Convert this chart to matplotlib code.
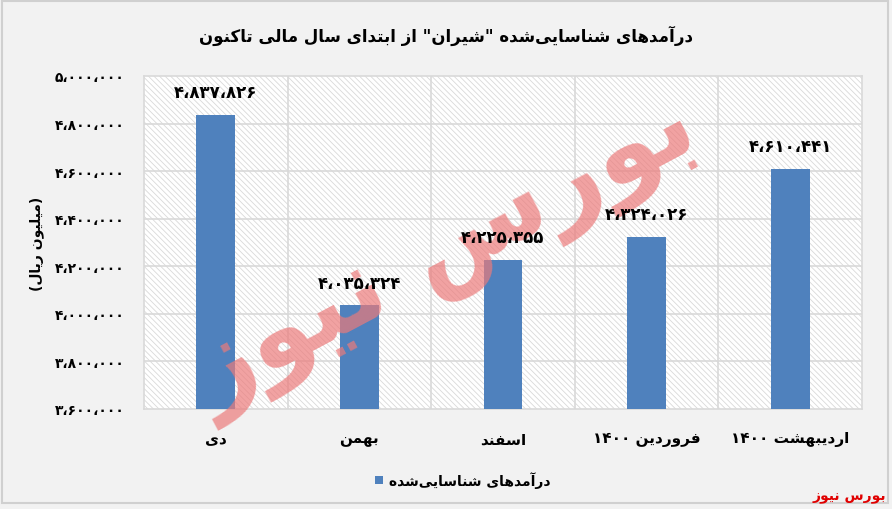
import matplotlib
matplotlib.use("Agg")
import matplotlib.pyplot as plt
from matplotlib.patches import Rectangle
import numpy as np

# ---------------- data ----------------
categories = ["دی", "بهمن", "اسفند", "فروردین ۱۴۰۰", "اردیبهشت ۱۴۰۰"]
values = [4837826, 4035324, 4225355, 4324026, 4610441]
y_ticks = [3600000, 3800000, 4000000, 4200000, 4400000, 4600000, 4800000, 5000000]
title = 'درآمدهای شناسایی‌شده "شیران" از ابتدای سال مالی تاکنون'
y_label = "(میلیون ریال)"
legend_label = "درآمدهای شناسایی‌شده"
brand = "بورس نیوز"

# ---------------- simple Persian shaping ----------------
# forms: (isolated, final, initial, medial); None for initial/medial => non-joining to next
FORMS = {
    'ا': ('\uFE8D', '\uFE8E', None, None),
    'آ': ('\uFE81', '\uFE82', None, None),
    'ب': ('\uFE8F', '\uFE90', '\uFE91', '\uFE92'),
    'ت': ('\uFE95', '\uFE96', '\uFE97', '\uFE98'),
    'د': ('\uFEA9', '\uFEAA', None, None),
    'ر': ('\uFEAD', '\uFEAE', None, None),
    'ز': ('\uFEAF', '\uFEB0', None, None),
    'س': ('\uFEB1', '\uFEB2', '\uFEB3', '\uFEB4'),
    'ش': ('\uFEB5', '\uFEB6', '\uFEB7', '\uFEB8'),
    'ف': ('\uFED1', '\uFED2', '\uFED3', '\uFED4'),
    'ق': ('\uFED5', '\uFED6', '\uFED7', '\uFED8'),
    'ک': ('\uFB8E', '\uFB8F', '\uFEDB', '\uFEDC'),
    'ل': ('\uFEDD', '\uFEDE', '\uFEDF', '\uFEE0'),
    'م': ('\uFEE1', '\uFEE2', '\uFEE3', '\uFEE4'),
    'ن': ('\uFEE5', '\uFEE6', '\uFEE7', '\uFEE8'),
    'ه': ('\uFEE9', '\uFEEA', '\uFEEB', '\uFEEC'),
    'و': ('\uFEED', '\uFEEE', None, None),
    'ی': ('\uFEEF', '\uFEF0', '\uFEF3', '\uFEF4'),
}
MIRROR = {'(': ')', ')': '('}


def joins_next(c):
    return c in FORMS and FORMS[c][2] is not None


def shape_run(s):
    out = []
    n = len(s)
    for i, c in enumerate(s):
        if c not in FORMS:
            if c != '\u200c':
                out.append(MIRROR.get(c, c))
            continue
        prev = s[i - 1] if i > 0 else ''
        nxt = s[i + 1] if i + 1 < n else ''
        jp = joins_next(prev)
        jn = joins_next(c) and nxt in FORMS
        iso, fin, ini, med = FORMS[c]
        if jp and jn:
            out.append(med)
        elif jp:
            out.append(fin)
        elif jn:
            out.append(ini)
        else:
            out.append(iso)
    return out


def fa(s):
    # split into digit runs and other runs, produce visual LTR order
    runs = []
    cur = ''
    cur_digit = None
    for c in s:
        d = c in '۰۱۲۳۴۵۶۷۸۹0123456789،,'
        if cur_digit is None or d == cur_digit:
            cur += c
        else:
            runs.append((cur_digit, cur))
            cur = c
        cur_digit = d
    if cur:
        runs.append((cur_digit, cur))
    vis = []
    for is_digit, r in reversed(runs):
        if is_digit:
            vis.append(r)
        else:
            vis.append(''.join(reversed(shape_run(r))))
    return ''.join(vis)


def fa_num(v):
    s = f"{v:,}"
    tr = str.maketrans('0123456789,', '۰۱۲۳۴۵۶۷۸۹،')
    return s.translate(tr)


plt.rcParams['font.family'] = ['DejaVu Sans']
plt.rcParams['hatch.linewidth'] = 0.6

fig = plt.figure(figsize=(8.92, 5.10), dpi=100, facecolor='#f2f2f2')
ax = fig.add_axes([144 / 892, 1 - 410 / 510, (862 - 144) / 892, (410 - 77) / 510])

ax.set_facecolor('white')
ax.add_patch(Rectangle((0, 0), 1, 1, transform=ax.transAxes, facecolor='white',
                       edgecolor='#d9d9d9', hatch='\\\\\\\\\\\\', lw=0, zorder=0))

x = np.arange(len(categories))
bars = ax.bar(x, values, width=0.27, color='#4f81bd', zorder=3)

ax.set_ylim(y_ticks[0], y_ticks[-1])
ax.set_xlim(-0.5, len(categories) - 0.5)
ax.set_yticks(y_ticks)
ax.set_yticklabels([fa_num(v) for v in y_ticks], fontsize=10, fontweight='bold')
ax.set_xticks(x)
ax.set_xticklabels([fa(c) for c in categories], fontsize=11, fontweight='bold')
ax.tick_params(axis='both', length=0)
ax.tick_params(axis='y', pad=14)
ax.tick_params(axis='x', pad=16)

# gridlines
for yt in y_ticks[1:-1]:
    ax.axhline(yt, color='#d9d9d9', lw=1.2, zorder=1)
for xb in np.arange(0.5, len(categories) - 0.5, 1):
    ax.axvline(xb, color='#d9d9d9', lw=1.2, zorder=1)
for sp in ax.spines.values():
    sp.set_color('#d9d9d9')
    sp.set_linewidth(1.2)

# watermark (above bars, below value labels)
ax.text(445 / 892, 1 - 255 / 510, fa(brand), transform=fig.transFigure, ha='center', va='center',
        fontsize=76, fontweight='bold', color='#ec7a7a', alpha=0.7, rotation=28, zorder=4,
        clip_on=False)

# value labels
for xi, v in zip(x, values):
    ax.annotate(fa_num(v), (xi, v), xytext=(0, 10), textcoords='offset points',
                ha='center', va='bottom', fontsize=12, fontweight='bold', zorder=6)

ax.set_ylabel(fa(y_label), fontsize=10, fontweight='bold', labelpad=8)
fig.text(0.5, 1 - 36 / 510, fa(title), ha='center', va='center', fontsize=12, fontweight='bold')

# legend
fig.patches.append(Rectangle((375 / 892, 1 - 485 / 510), 8 / 892, 8 / 510,
                             transform=fig.transFigure, facecolor='#4f81bd', edgecolor='none'))
fig.text(389 / 892, 1 - 481 / 510, fa(legend_label), ha='left', va='center', fontsize=10, fontweight='bold')

# brand
fig.text(886 / 892, 1 - 497 / 510, fa(brand), ha='right', va='center', fontsize=10,
         fontweight='bold', color='#e00000')

# frame
fig.patches.append(Rectangle((2 / 892, 6 / 510), 886 / 892, 502 / 510, transform=fig.transFigure,
                             facecolor='none', edgecolor='#d0d0d0', lw=1.5))

fig.savefig('out.png', dpi=100, facecolor=fig.get_facecolor())
